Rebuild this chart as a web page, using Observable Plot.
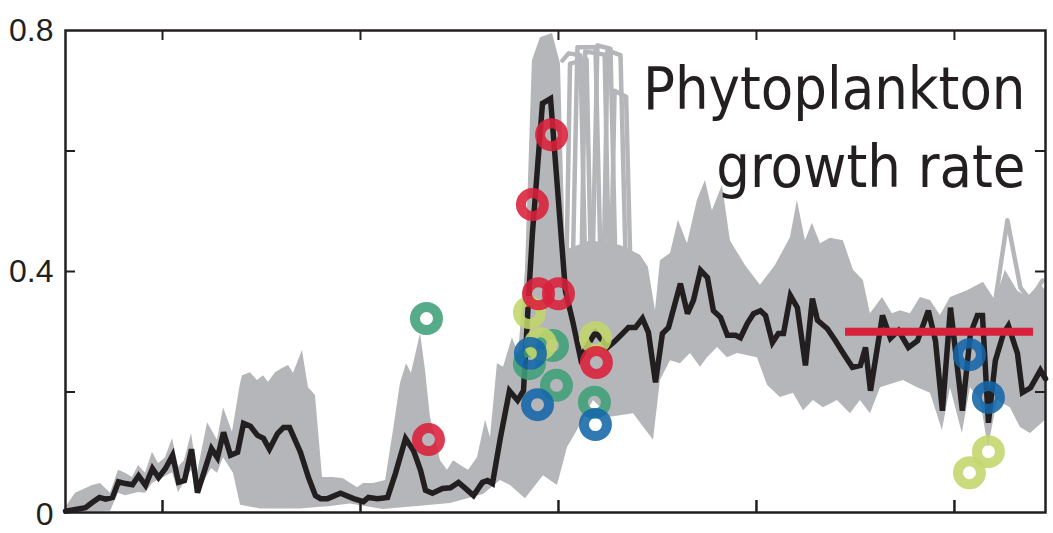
<!DOCTYPE html>
<html><head><meta charset="utf-8">
<script src="https://cdn.jsdelivr.net/npm/d3@7"></script>
<script src="https://cdn.jsdelivr.net/npm/@observablehq/plot@0.6"></script>
<style>body{margin:0;background:#fff} #chart svg{display:block}</style>
</head><body><div id="chart"></div>
<script>
// ---- data (x in months from first labelled tick, y = growth rate) ----
const xTicks = [0, 12, 24, 36, 48];
const yTicks = [0.2, 0.4, 0.6];
const yLabels = [0.4, 0.8];
const zeroLabel = [0];
const titleText = "Phytoplankton\ngrowth rate";

const meanMonth = [-5.88,-5.27,-4.67,-4.24,-3.82,-3.45,-3.03,-2.67,-2.24,-1.82,
-1.45,-1.03,-0.61,-0.24,0.18,0.61,0.97,1.33,1.76,2.12,
2.55,2.97,3.33,3.70,4.12,4.55,4.91,5.33,5.76,6.12,
6.48,6.97,7.33,7.70,8.36,8.85,9.27,9.58,10.0,10.79,
11.58,12.18,12.48,13.03,13.64,14.12,14.73,15.21,15.64,15.94,
16.36,16.97,17.45,17.94,18.36,18.85,19.39,19.70,20.0,20.48,
21.03,21.52,21.88,22.18,22.42,23.03,23.52,24.42,24.85,25.33,
26.24,26.67,26.97,27.45,27.88,28.24,28.67,29.09,29.45,29.88,
30.30,30.67,31.39,31.82,32.18,32.61,33.03,33.39,33.82,34.24,
34.73,35.03,35.45,35.82,36.24,36.55,36.97,37.33,37.64,38.06,
38.48,38.97,39.39,39.70,40.30,40.79,41.27,41.82,42.30,42.61,
42.91,43.64,44.12,44.61,45.21,45.76,46.42,46.85,47.27,47.76,
48.48,48.97,49.39,49.70,50.06,50.48,50.97,51.27,51.82,52.12,
52.61,53.21,53.52];
const meanRate = [0.002,0.005,0.008,0.017,0.025,0.022,0.025,0.051,0.048,0.046,
0.061,0.045,0.073,0.058,0.073,0.095,0.050,0.053,0.105,0.033,
0.070,0.106,0.091,0.133,0.095,0.100,0.148,0.143,0.128,0.123,
0.105,0.131,0.141,0.141,0.100,0.058,0.028,0.023,0.023,0.032,
0.023,0.018,0.025,0.023,0.025,0.065,0.123,0.103,0.070,0.037,
0.032,0.040,0.041,0.050,0.040,0.028,0.050,0.053,0.048,0.124,
0.202,0.186,0.202,0.352,0.463,0.679,0.687,0.368,0.319,0.257,
0.299,0.285,0.274,0.285,0.297,0.307,0.307,0.322,0.299,0.216,
0.297,0.307,0.380,0.330,0.352,0.402,0.390,0.335,0.324,0.294,
0.294,0.290,0.314,0.330,0.335,0.327,0.282,0.297,0.297,0.360,
0.340,0.244,0.355,0.319,0.305,0.285,0.264,0.241,0.244,0.274,
0.202,0.327,0.289,0.302,0.274,0.285,0.335,0.285,0.169,0.340,
0.169,0.297,0.327,0.327,0.149,0.252,0.297,0.310,0.264,0.199,
0.207,0.236,0.222];

// ensemble envelope (upper edge)
const bandHighMonth = [-5.88,-5.27,-4.24,-3.76,-3.15,-2.67,-2.24,-1.82,-1.45,-1.03,
-0.61,-0.24,0.18,0.61,0.97,1.33,1.76,2.12,2.73,3.33,
3.70,4.24,4.73,4.85,5.33,5.76,6.12,6.42,6.85,7.27,
7.64,7.94,8.48,8.85,9.27,9.70,10.36,10.97,11.82,12.18,
12.79,13.52,14.00,14.42,14.79,15.09,15.64,15.94,16.24,16.85,
17.27,17.64,18.24,18.55,19.09,19.58,19.88,20.30,20.67,21.21,
21.58,22.00,22.42,22.91,23.64,24.12,24.42,25.94,27.76,28.97,
29.45,29.88,30.18,30.79,31.27,31.82,32.42,32.91,33.33,33.94,
34.42,35.33,36.24,37.15,38.06,38.48,38.97,39.39,39.88,40.48,
41.27,41.88,42.48,42.91,43.64,44.24,44.73,45.33,45.94,46.55,
47.15,47.76,48.79,49.76,50.48,51.09,51.82,52.42,53.21,53.52];
const bandHigh = [0.008,0.032,0.045,0.048,0.032,0.070,0.065,0.058,0.078,0.065,
0.100,0.081,0.091,0.123,0.075,0.086,0.131,0.065,0.149,0.120,
0.174,0.133,0.214,0.227,0.232,0.219,0.227,0.216,0.232,0.239,
0.244,0.231,0.269,0.207,0.194,0.058,0.058,0.056,0.041,0.048,
0.048,0.053,0.136,0.214,0.247,0.231,0.297,0.236,0.158,0.086,
0.070,0.086,0.075,0.070,0.091,0.153,0.124,0.247,0.241,0.290,
0.264,0.402,0.750,0.788,0.795,0.745,0.435,0.451,0.443,0.427,
0.407,0.335,0.418,0.430,0.485,0.446,0.518,0.551,0.501,0.543,
0.451,0.410,0.377,0.410,0.456,0.518,0.451,0.480,0.446,0.455,
0.451,0.402,0.385,0.330,0.357,0.330,0.335,0.330,0.357,0.352,
0.327,0.357,0.368,0.382,0.352,0.402,0.368,0.357,0.380,0.368];

// ensemble envelope (lower edge)
const bandLowMonth = [-5.88,-3.15,-2.67,-2.24,-1.45,-1.03,-0.61,0.61,0.97,1.76,
2.12,2.97,3.33,3.70,4.30,4.73,5.94,8.36,10.18,11.39,
13.39,15.45,17.45,19.45,20.48,21.09,22.00,23.09,23.94,24.55,
25.15,26.12,27.15,28.55,29.76,30.18,30.79,31.39,32.00,32.61,
33.03,33.64,34.24,34.85,36.06,36.67,37.45,38.24,38.85,39.45,
40.06,40.91,41.70,42.30,42.91,43.52,44.91,45.76,46.55,47.27,
47.76,48.48,48.97,49.58,50.06,50.61,51.39,52.00,52.61,53.52];
const bandLow = [0,0.002,0.032,0.028,0.033,0.032,0.048,0.066,0.033,0.070,
0.032,0.073,0.065,0.091,0.065,0.012,0.006,0.006,0.010,0.014,
0.005,0.010,0.015,0.030,0.053,0.045,0.023,0.061,0.045,0.108,
0.136,0.186,0.158,0.164,0.120,0.219,0.252,0.247,0.264,0.241,
0.257,0.274,0.257,0.264,0.257,0.211,0.191,0.198,0.169,0.186,
0.174,0.186,0.164,0.186,0.164,0.207,0.219,0.207,0.198,0.136,
0.207,0.131,0.207,0.186,0.108,0.186,0.174,0.141,0.131,0.153];

// individual ensemble members that leave the envelope
const memberId    = [1,1,1,1, 2,2,2,2, 3,3,3,3, 4,4,4,4,4, 5,5,5,5,5, 6,6,6,6, 7,7,7,7, 8,8,8,8];
const memberMonth = [24.24,24.61,25.33,25.64, 24.85,25.15,26.24,26.55, 26.06,26.36,27.15,27.45,
                     26.73,26.97,27.76,28.06,28.48, 50.48,51.21,52.0,52.61,53.33,
                     24.50,24.70,25.70,25.95, 25.40,25.62,26.80,27.05,
                     27.20,27.40,28.10,28.35];
const memberRate  = [0.750,0.762,0.759,0.385, 0.385,0.772,0.772,0.418, 0.402,0.775,0.770,0.418,
                     0.385,0.767,0.759,0.427,0.352, 0.352,0.485,0.373,0.352,0.385,
                     0.430,0.745,0.752,0.430, 0.420,0.765,0.760,0.420,
                     0.420,0.700,0.690,0.420];

// observations (rings)
const redMonth = [16.12,23.58,22.42,22.79,24.0,26.30];
const redRate  = [0.121,0.627,0.511,0.363,0.363,0.249];
const greenMonth = [16.0,22.24,23.64,23.88,26.18];
const greenRate  = [0.322,0.247,0.277,0.211,0.183];
const limeMonth = [22.24,22.91,26.24,50.06,48.91];
const limeRate  = [0.332,0.280,0.290,0.101,0.066];
const blueMonth = [22.30,22.73,26.24,48.91,50.06];
const blueRate  = [0.264,0.179,0.146,0.262,0.191];

// reference level
const refStart = 41.4, refEnd = 52.8, refRate = 0.30;

// ---- build tables ----
const pairs = (xs, ys) => xs.map((x, i) => ({x, y: ys[i]}));
const mean = pairs(meanMonth, meanRate);
const high = pairs(bandHighMonth, bandHigh);
const low = pairs(bandLowMonth, bandLow);
const members = memberMonth.map((x, i) => ({x, y: memberRate[i], id: memberId[i]}));
const ref = [{x1: refStart, x2: refEnd, y: refRate}];

const gray = "#b5b6b9";
const ink = "#231f20";
const innerW = 1053 - 65 - 8, innerH = 533 - 30 - 21;
const ring = (data, color) => Plot.dot(data, {x: "x", y: "y", r: 11.5, fill: "none", stroke: color, strokeWidth: 10, strokeOpacity: 0.88});

const chart = Plot.plot({
  width: 1053, height: 533,
  marginLeft: 65, marginRight: 8, marginTop: 30, marginBottom: 21,
  style: {fontFamily: "'Liberation Sans', sans-serif", color: ink, background: "#fff"},
  x: {domain: [-5.88, 53.52], axis: null},
  y: {domain: [0, 0.8], axis: null},
  marks: [
    Plot.areaY(high, {x: "x", y: "y", fill: gray}),
    Plot.areaY(low, {x: "x", y: "y", fill: "white"}),
    Plot.line(members, {x: "x", y: "y", z: "id", stroke: gray, strokeWidth: 4.5}),
    Plot.line(mean, {x: "x", y: "y", stroke: ink, strokeWidth: 5.5, strokeLinejoin: "miter", strokeMiterlimit: 3}),
    Plot.ruleY(ref, {x1: "x1", x2: "x2", y: "y", stroke: "#d8213a", strokeWidth: 8}),
    ring(pairs(greenMonth, greenRate), "#3f9f78"),
    ring(pairs(limeMonth, limeRate), "#c2d66a"),
    ring(pairs(redMonth, redRate), "#d9203a"),
    ring(pairs(blueMonth, blueRate), "#1466a8"),
    Plot.frame({stroke: ink, strokeWidth: 2.5}),
    Plot.ruleX(xTicks, {insetTop: innerH - 12, stroke: ink, strokeWidth: 2.5}),
    Plot.ruleX(xTicks, {insetBottom: innerH - 10, stroke: ink, strokeWidth: 2}),
    Plot.ruleY(yTicks, {insetRight: innerW - 10, stroke: ink, strokeWidth: 2}),
    Plot.ruleY(yTicks, {insetLeft: innerW - 10, stroke: ink, strokeWidth: 2}),
    Plot.text(yLabels, {frameAnchor: "left", y: d => d, text: d => d.toFixed(1), textAnchor: "end", dx: -12, fontSize: 32, fill: ink}),
    Plot.text(zeroLabel, {frameAnchor: "left", y: d => d, text: d => String(d), textAnchor: "end", dx: -12, dy: 2, fontSize: 32, fill: ink}),
    Plot.text([titleText], {frameAnchor: "top-right", text: d => d, textAnchor: "end", lineAnchor: "top", dx: -20, dy: 23, fontSize: 59, lineHeight: 1.32, fill: ink, fontFamily: "'Liberation Sans Narrow', 'DejaVu Sans Condensed', sans-serif"})
  ]
});
document.getElementById("chart").append(chart);
</script></body></html>
